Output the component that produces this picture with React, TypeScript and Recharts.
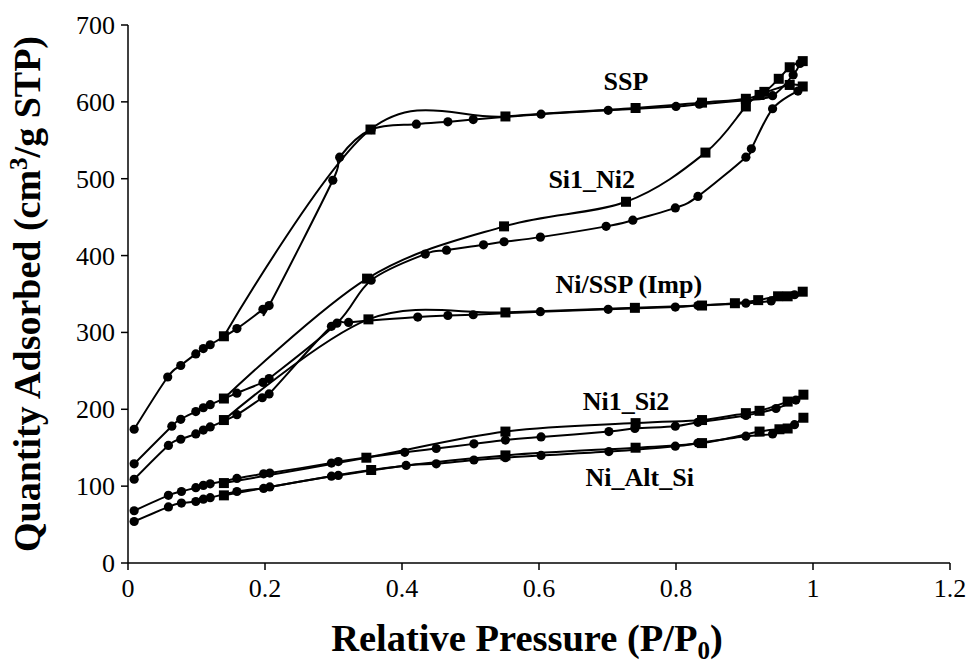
import React from 'react';
import { LineChart, Line, XAxis, YAxis, Label, ReferenceDot } from 'recharts';

// Relative pressure (P/P0) and quantity adsorbed (cm3/g STP) for each sample.
// "ads" = adsorption branch (circles), "des" = desorption branch (squares).
const sspAdsP = [0.009, 0.058, 0.077, 0.099, 0.110, 0.120, 0.159, 0.197, 0.206, 0.299, 0.309, 0.355, 0.421, 0.467, 0.504, 0.603, 0.701, 0.800, 0.834, 0.902, 0.941, 0.971, 0.981];
const sspAdsQ = [174, 242, 257, 272, 279, 284, 305, 330, 335, 498, 528, 564, 571, 574, 577, 584, 589, 594, 597, 602, 608, 635, 650];
const sspDesP = [0.985, 0.966, 0.950, 0.929, 0.902, 0.838, 0.741, 0.551, 0.354, 0.140];
const sspDesQ = [653, 645, 630, 613, 604, 599, 592, 581, 564, 295];

const si1Ni2AdsP = [0.009, 0.064, 0.077, 0.099, 0.110, 0.120, 0.159, 0.197, 0.206, 0.305, 0.355, 0.434, 0.465, 0.519, 0.549, 0.602, 0.698, 0.737, 0.799, 0.832, 0.902, 0.910, 0.941, 0.978];
const si1Ni2AdsQ = [129, 178, 187, 197, 202, 206, 221, 235, 240, 312, 368, 402, 407, 414, 418, 424, 438, 446, 462, 477, 528, 539, 591, 614];
const si1Ni2DesP = [0.985, 0.966, 0.922, 0.902, 0.843, 0.727, 0.549, 0.349, 0.140];
const si1Ni2DesQ = [620, 622, 609, 594, 534, 470, 438, 370, 214];

const niSspAdsP = [0.009, 0.059, 0.077, 0.099, 0.110, 0.120, 0.159, 0.196, 0.206, 0.297, 0.322, 0.423, 0.467, 0.504, 0.602, 0.701, 0.799, 0.832, 0.902, 0.939, 0.973];
const niSspAdsQ = [109, 153, 161, 168, 173, 177, 193, 215, 220, 308, 313, 320, 322, 323, 327, 330, 333, 335, 338, 341, 349];
const niSspDesP = [0.985, 0.963, 0.949, 0.920, 0.886, 0.838, 0.740, 0.551, 0.351, 0.140];
const niSspDesQ = [353, 347, 347, 342, 338, 335, 332, 326, 317, 186];

const ni1Si2AdsP = [0.009, 0.059, 0.078, 0.099, 0.110, 0.120, 0.159, 0.198, 0.207, 0.297, 0.307, 0.404, 0.450, 0.505, 0.551, 0.603, 0.702, 0.740, 0.799, 0.832, 0.902, 0.946, 0.975];
const ni1Si2AdsQ = [68, 88, 93, 98, 101, 103, 110, 116, 117, 130, 132, 144, 149, 155, 160, 164, 171, 175, 178, 183, 192, 201, 212];
const ni1Si2DesP = [0.986, 0.963, 0.922, 0.902, 0.838, 0.741, 0.551, 0.348, 0.140];
const ni1Si2DesQ = [219, 210, 198, 195, 186, 182, 171, 137, 104];

const niAltSiAdsP = [0.009, 0.059, 0.078, 0.099, 0.110, 0.120, 0.159, 0.198, 0.207, 0.297, 0.307, 0.406, 0.450, 0.505, 0.551, 0.603, 0.702, 0.799, 0.832, 0.902, 0.941, 0.973];
const niAltSiAdsQ = [54, 73, 78, 80, 83, 85, 93, 97, 99, 113, 114, 127, 129, 134, 137, 140, 145, 152, 156, 165, 168, 180];
const niAltSiDesP = [0.986, 0.963, 0.951, 0.922, 0.838, 0.741, 0.551, 0.355, 0.140];
const niAltSiDesQ = [189, 175, 174, 171, 156, 150, 140, 121, 88];

const xTicks = [0, 0.2, 0.4, 0.6, 0.8, 1, 1.2];
const yTicks = [0, 100, 200, 300, 400, 500, 600, 700];

// Sample names and where they sit on the chart (data units).
const sampleNames = ['SSP', 'Si1_Ni2', 'Ni/SSP (Imp)', 'Ni1_Si2', 'Ni_Alt_Si'];
const nameP = [0.727, 0.677, 0.731, 0.727, 0.747];
const nameQ = [627, 499, 362, 210, 111];

const toPoints = (p: number[], q: number[]) => p.map((x, i) => ({ p: x, q: q[i] }));

const branches = [
  { id: 'ssp-ads', data: toPoints(sspAdsP, sspAdsQ), marker: 'circle' },
  { id: 'ssp-des', data: toPoints(sspDesP, sspDesQ), marker: 'square' },
  { id: 'si1ni2-ads', data: toPoints(si1Ni2AdsP, si1Ni2AdsQ), marker: 'circle' },
  { id: 'si1ni2-des', data: toPoints(si1Ni2DesP, si1Ni2DesQ), marker: 'square' },
  { id: 'nissp-ads', data: toPoints(niSspAdsP, niSspAdsQ), marker: 'circle' },
  { id: 'nissp-des', data: toPoints(niSspDesP, niSspDesQ), marker: 'square' },
  { id: 'ni1si2-ads', data: toPoints(ni1Si2AdsP, ni1Si2AdsQ), marker: 'circle' },
  { id: 'ni1si2-des', data: toPoints(ni1Si2DesP, ni1Si2DesQ), marker: 'square' },
  { id: 'nialtsi-ads', data: toPoints(niAltSiAdsP, niAltSiAdsQ), marker: 'circle' },
  { id: 'nialtsi-des', data: toPoints(niAltSiDesP, niAltSiDesQ), marker: 'square' },
];

// Catmull-Rom style cardinal spline (smoothed line through every point).
class Cardinal {
  _context: any; _k: number; _line: number = NaN; _point: number = 0;
  _x0 = NaN; _x1 = NaN; _x2 = NaN; _y0 = NaN; _y1 = NaN; _y2 = NaN;
  constructor(context: any, tension: number) {
    this._context = context;
    this._k = (1 - tension) / 6;
  }
  areaStart() { this._line = 0; }
  areaEnd() { this._line = NaN; }
  lineStart() {
    this._x0 = this._x1 = this._x2 = this._y0 = this._y1 = this._y2 = NaN;
    this._point = 0;
  }
  lineEnd() {
    switch (this._point) {
      case 2: this._context.lineTo(this._x2, this._y2); break;
      case 3: this.bez(this._x1, this._y1); break;
    }
    if (this._line || (this._line !== 0 && this._point === 1)) this._context.closePath();
    this._line = 1 - this._line;
  }
  bez(x: number, y: number) {
    this._context.bezierCurveTo(
      this._x1 + this._k * (this._x2 - this._x0),
      this._y1 + this._k * (this._y2 - this._y0),
      this._x2 + this._k * (this._x1 - x),
      this._y2 + this._k * (this._y1 - y),
      this._x2,
      this._y2
    );
  }
  point(x: number, y: number) {
    x = +x; y = +y;
    switch (this._point) {
      case 0:
        this._point = 1;
        if (this._line) this._context.lineTo(x, y); else this._context.moveTo(x, y);
        break;
      case 1:
        this._point = 2; this._x1 = x; this._y1 = y;
        break;
      case 2:
        this._point = 3;
        this.bez(x, y);
        break;
      default:
        this.bez(x, y);
        break;
    }
    this._x0 = this._x1; this._x1 = this._x2; this._x2 = x;
    this._y0 = this._y1; this._y1 = this._y2; this._y2 = y;
  }
}
const smoothCurve: any = (context: any) => new Cardinal(context, 0);

const serif = 'Liberation Serif';
const serifStyle = { fontFamily: 'Liberation Serif' };

const circleDot = (props: any) => {
  const { cx, cy, index } = props;
  if (cx == null || cy == null) return <g key={`c-${index}`} />;
  return <circle key={`c-${index}`} cx={cx} cy={cy} r={4.6} fill="#000" stroke="none" />;
};
const squareDot = (props: any) => {
  const { cx, cy, index } = props;
  if (cx == null || cy == null) return <g key={`s-${index}`} />;
  return <rect key={`s-${index}`} x={cx - 5} y={cy - 5} width={10} height={10} fill="#000" stroke="none" />;
};

const fmtX = (v: number) => (v === 0 ? '0' : v === 1 ? '1' : String(v));

const XTick = (props: any) => {
  const { x, y, payload } = props;
  return (
    <text x={x} y={y} dy={20} textAnchor="middle" fontFamily={serif} style={serifStyle} fontSize={26} fill="#000">
      {fmtX(payload.value)}
    </text>
  );
};

const YTick = (props: any) => {
  const { x, y, payload } = props;
  return (
    <text x={x} y={y} dy={9} textAnchor="end" fontFamily={serif} style={serifStyle} fontSize={26} fill="#000">
      {String(payload.value)}
    </text>
  );
};

const XTitle = (props: any) => {
  const { viewBox } = props;
  const cx = viewBox.x + viewBox.width / 2 - 12;
  const y = viewBox.y + 88;
  return (
    <text x={cx} y={y} textAnchor="middle" fontFamily={serif} style={serifStyle} fontWeight="bold" fontSize={38.5} fill="#000">
      Relative Pressure (P/P
      <tspan fontSize={25} dy={8}>0</tspan>
      <tspan dy={-8}>)</tspan>
    </text>
  );
};

const YTitle = (props: any) => {
  const { viewBox } = props;
  const cy = viewBox.y + viewBox.height / 2;
  const x = 40;
  return (
    <text
      x={x}
      y={cy}
      transform={`rotate(-90, ${x}, ${cy})`}
      textAnchor="middle"
      fontFamily={serif}
      style={serifStyle}
      fontWeight="bold"
      fontSize={38}
      fill="#000"
    >
      Quantity Adsorbed (cm
      <tspan fontSize={25} dy={-13}>3</tspan>
      <tspan dy={13}>/g STP)</tspan>
    </text>
  );
};

export default function App() {
  return (
    <div style={{ position: 'absolute', left: 0, top: 0, background: '#fff', fontFamily: 'Liberation Serif' }}>
      <LineChart width={971} height={665} margin={{ top: 25, right: 21, bottom: 42, left: 48 }} style={serifStyle}>
        <XAxis
          type="number"
          dataKey="p"
          domain={[0, 1.2]}
          ticks={xTicks}
          allowDataOverflow
          height={60}
          axisLine={{ stroke: '#000', strokeWidth: 1.5 }}
          tickLine={{ stroke: '#000', strokeWidth: 1.5 }}
          tickSize={7}
          tickMargin={7}
          tick={<XTick />}
        >
          <Label content={<XTitle />} />
        </XAxis>
        <YAxis
          type="number"
          dataKey="q"
          domain={[0, 700]}
          ticks={yTicks}
          allowDataOverflow
          width={80}
          axisLine={{ stroke: '#000', strokeWidth: 1.5 }}
          tickLine={{ stroke: '#000', strokeWidth: 1.5 }}
          tickSize={7}
          tickMargin={6}
          tick={<YTick />}
        >
          <Label content={<YTitle />} />
        </YAxis>
        {branches.map((b) => (
          <Line
            key={b.id}
            data={b.data}
            dataKey="q"
            type={smoothCurve}
            stroke="#000"
            strokeWidth={2}
            dot={b.marker === 'circle' ? circleDot : squareDot}
            activeDot={false}
            isAnimationActive={false}
          />
        ))}
        {sampleNames.map((name, i) => (
          <ReferenceDot
            key={name}
            x={nameP[i]}
            y={nameQ[i]}
            r={0}
            shape={(p: any) => (
              <text
                x={p.cx}
                y={p.cy}
                textAnchor="middle"
                dominantBaseline="central"
                fontFamily={serif}
                style={serifStyle}
                fontWeight="bold"
                fontSize={26}
                fill="#000"
              >
                {name}
              </text>
            )}
          />
        ))}
      </LineChart>
    </div>
  );
}
